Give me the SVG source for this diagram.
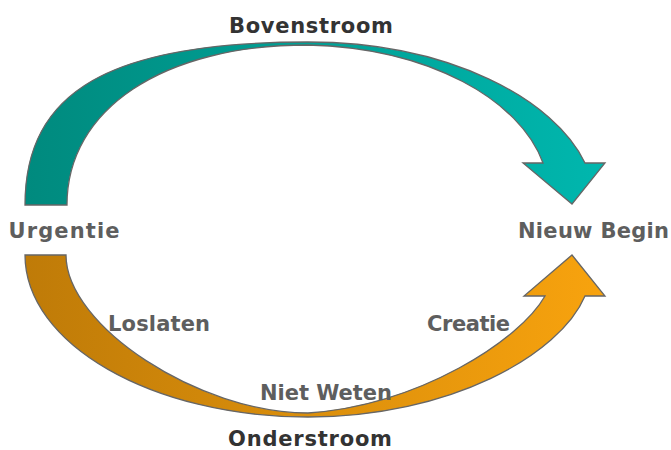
<svg xmlns="http://www.w3.org/2000/svg" width="671" height="450" viewBox="0 0 671 450">
<defs>
<linearGradient id="gTop" gradientUnits="userSpaceOnUse" x1="25" y1="0" x2="605" y2="0">
<stop offset="0" stop-color="#008A7E"/>
<stop offset="1" stop-color="#00B7AE"/>
</linearGradient>
<linearGradient id="gBot" gradientUnits="userSpaceOnUse" x1="25" y1="0" x2="605" y2="0">
<stop offset="0" stop-color="#BF7B08"/>
<stop offset="1" stop-color="#F8A30E"/>
</linearGradient>
<style>
.arrow{stroke:#666666;stroke-width:1.3;stroke-linejoin:miter}
.t{font-family:"DejaVu Sans",Verdana,sans-serif;font-weight:bold;font-size:21px;text-anchor:middle}
.dark{fill:#333333}
.gray{fill:#5E5E5E}
</style>
</defs>
<g id="connectors">
<path id="bovenstroom-arrow" class="arrow" fill="url(#gTop)" d="M 25 205 C 25 91 110 42 308 42 C 450 42 555 100 585 163 L 605 163 L 572 204 L 523 163 L 543 163 C 520 100 430 48 308 45 C 163 45 67 109 67 205 Z"/>
<path id="onderstroom-arrow" class="arrow" fill="url(#gBot)" d="M 25 255 C 25 344 152 417 308 417 C 450 417 560 355 585 296 L 605 296 L 572 255 L 524 296 L 545 296 C 520 340 420 405 308 413 C 199 413 66 326 66 255 Z"/>
</g>
<g id="node-bovenstroom"><text class="t dark" x="311" y="33" textLength="164">Bovenstroom</text></g>
<g id="node-urgentie"><text class="t gray" x="64" y="238" textLength="111">Urgentie</text></g>
<g id="node-nieuw-begin"><text class="t gray" x="593.5" y="238" textLength="151">Nieuw Begin</text></g>
<g id="node-loslaten"><text class="t gray" x="159" y="331" textLength="102">Loslaten</text></g>
<g id="node-creatie"><text class="t gray" x="468.5" y="331" textLength="83">Creatie</text></g>
<g id="node-niet-weten"><text class="t gray" x="326" y="400" textLength="132">Niet Weten</text></g>
<g id="node-onderstroom"><text class="t dark" x="310" y="446" textLength="164">Onderstroom</text></g>
</svg>
